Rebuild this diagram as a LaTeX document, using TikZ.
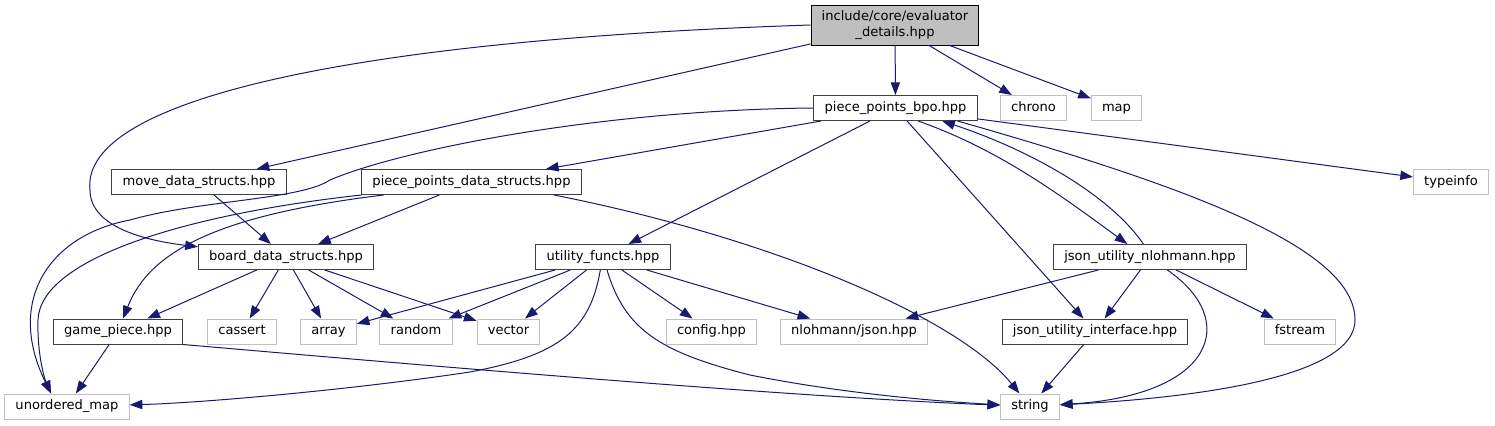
\documentclass[tikz,border=0pt]{standalone}
\usepackage{fontspec}
\setmainfont{DejaVu Sans}
\usetikzlibrary{arrows.meta}
\definecolor{edgeblue}{HTML}{191970}
\definecolor{sysgray}{HTML}{BFBFBF}
\definecolor{docgray}{HTML}{404040}
\begin{document}
\begin{tikzpicture}[x=0.75pt, y=-0.75pt, >={Triangle[length=9.5pt,width=7pt]},
  every node/.style={font=\fontsize{9.8pt}{11.8pt}\selectfont, inner xsep=8pt, inner ysep=0pt, line width=0.75pt},
  docfile/.style={draw=docgray, fill=white, minimum height=18.75pt, text height=7.3pt, text depth=2.3pt},
  sysfile/.style={draw=sysgray, fill=white, minimum height=18.75pt, text height=7.3pt, text depth=2.3pt},
  mainfile/.style={draw=black, fill=sysgray, align=center, minimum height=30pt},
  dep/.style={->, draw=edgeblue, line width=0.75pt}]
\useasboundingbox (0,0) rectangle (1495,425);
\node[mainfile] (evaluator) at (895,25) {include/core/evaluator\\\_details.hpp};
\node[docfile] (bpo) at (895.5,108) {piece\_points\_bpo.hpp};
\node[sysfile] (chrono) at (1033.5,108) {chrono};
\node[sysfile] (map) at (1116.5,108) {map};
\node[sysfile] (typeinfo) at (1451,182) {typeinfo};
\node[docfile] (movestructs) at (199,182) {move\_data\_structs.hpp};
\node[docfile] (ppstructs) at (471.5,182) {piece\_points\_data\_structs.hpp};
\node[docfile] (boardstructs) at (286,257) {board\_data\_structs.hpp};
\node[docfile] (utility) at (603,257) {utility\_functs.hpp};
\node[docfile] (jsonnlohmann) at (1150,257) {json\_utility\_nlohmann.hpp};
\node[docfile] (gamepiece) at (118,331.5) {game\_piece.hpp};
\node[sysfile] (cassert) at (242,331.5) {cassert};
\node[sysfile] (array) at (328.5,331.5) {array};
\node[sysfile] (random) at (416,331.5) {random};
\node[sysfile] (vector) at (508.5,331.5) {vector};
\node[sysfile] (config) at (711.5,331.5) {config.hpp};
\node[sysfile] (json) at (854,331.5) {nlohmann/json.hpp};
\node[docfile] (jsoninterface) at (1095,331.5) {json\_utility\_interface.hpp};
\node[sysfile] (fstream) at (1300,331.5) {fstream};
\node[sysfile] (umap) at (67,406.5) {unordered\_map};
\node[sysfile] (string) at (1030,406.5) {string};
% evaluator_details.hpp
\draw[dep] (evaluator) -- (bpo);
\draw[dep] (evaluator) -- (chrono);
\draw[dep] (evaluator) -- (map);
\draw[dep] (evaluator) -- (movestructs);
\draw[dep] (evaluator.west) .. controls (350,40) and (80,100) .. (90,190) .. controls (90,225) and (140,240) .. (boardstructs);
% piece_points_bpo.hpp
\draw[dep] (bpo) -- (ppstructs);
\draw[dep] (bpo) -- (utility);
\draw[dep] (bpo) -- (jsoninterface);
\draw[dep] (bpo) -- (typeinfo);
\draw[dep] ([xshift=17pt]bpo.south) .. controls (1000,150) and (1060,195) .. ([xshift=-17pt]jsonnlohmann.north);
\draw[dep] ([xshift=-15pt]bpo.south east) .. controls (1200,190) and (1355,250) .. (1355,320) .. controls (1355,385) and (1150,400) .. (string);
\draw[dep] (bpo.west) .. controls (600,110) and (400,150) .. (330,180) .. controls (300,200) and (200,200) .. (130,220) .. controls (50,235) and (5,300) .. ([xshift=-12pt]umap.north);
% move_data_structs.hpp
\draw[dep] (movestructs) -- (boardstructs);
% piece_points_data_structs.hpp
\draw[dep] (ppstructs) -- (boardstructs);
\draw[dep] ([xshift=-66pt]ppstructs.south) .. controls (220,215) and (150,250) .. (gamepiece);
\draw[dep] (ppstructs.south west) .. controls (180,215) and (40,260) .. (38,320) .. controls (37,355) and (45,380) .. ([xshift=-12pt]umap.north);
\draw[dep] ([xshift=62pt]ppstructs.south) .. controls (780,240) and (960,320) .. (string);
% board_data_structs.hpp
\draw[dep] (boardstructs) -- (gamepiece);
\draw[dep] (boardstructs) -- (cassert);
\draw[dep] (boardstructs) -- (array);
\draw[dep] (boardstructs) -- (random);
\draw[dep] (boardstructs) -- (vector);
% utility_functs.hpp
\draw[dep] (utility) -- (array);
\draw[dep] (utility) -- (random);
\draw[dep] (utility) -- (vector);
\draw[dep] (utility) -- (config);
\draw[dep] (utility) -- (json);
\draw[dep] ([xshift=-2pt]utility.south) .. controls (590,330) and (560,355) .. (470,372) .. controls (350,390) and (200,403) .. (umap);
\draw[dep] ([xshift=3pt]utility.south) .. controls (625,330) and (660,352) .. (750,375) .. controls (850,395) and (950,402) .. (string);
% game_piece.hpp
\draw[dep] (gamepiece) -- (umap);
\draw[dep] (gamepiece.south east) .. controls (500,372) and (800,397) .. (string);
% json_utility_nlohmann.hpp
\draw[dep] (jsonnlohmann) -- (json);
\draw[dep] (jsonnlohmann) -- (jsoninterface);
\draw[dep] (jsonnlohmann) -- (fstream);
\draw[dep] ([xshift=13pt]jsonnlohmann.south) .. controls (1240,320) and (1215,395) .. (string);
\draw[dep] ([xshift=-5pt]jsonnlohmann.north) .. controls (1110,195) and (1030,150) .. ([xshift=35pt]bpo.south);
% json_utility_interface.hpp
\draw[dep] (jsoninterface) -- (string);
\end{tikzpicture}
\end{document}
